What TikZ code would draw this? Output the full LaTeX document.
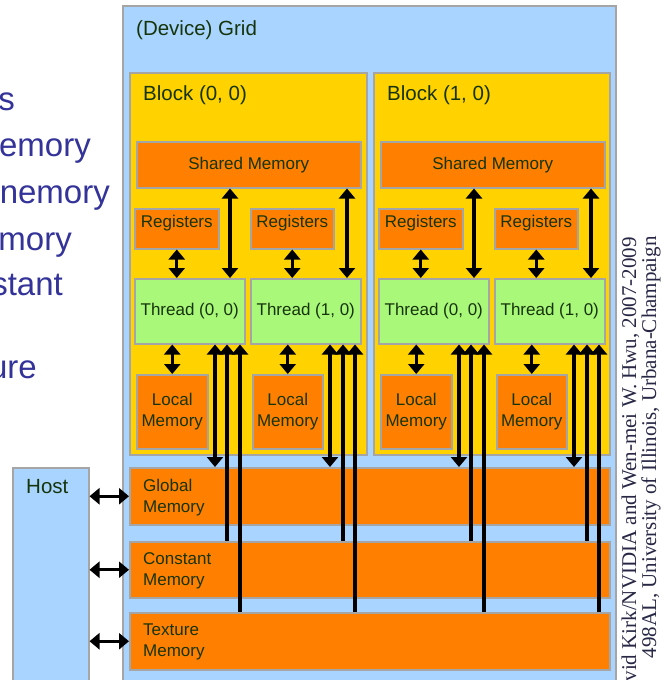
\documentclass[tikz,border=0pt]{standalone}
\usepackage{fontspec}
\setmainfont{Liberation Sans}
\newfontfamily\serifside{Liberation Serif}
\usetikzlibrary{arrows.meta}
\definecolor{gridblue}{RGB}{168,212,255}
\definecolor{blockgold}{RGB}{255,210,0}
\definecolor{memorange}{RGB}{255,128,0}
\definecolor{threadgreen}{RGB}{170,248,122}
\definecolor{edgegray}{RGB}{165,165,165}
\definecolor{labelgreen}{RGB}{22,52,10}
\definecolor{bullblue}{RGB}{51,51,153}
\definecolor{sidegray}{RGB}{40,40,70}
\tikzset{
  box/.style={draw=edgegray, line width=1.5pt, anchor=north west, inner sep=0pt,
    text=labelgreen, font=\fontsize{17}{21}\selectfont, align=center},
  gridbox/.style={box, fill=gridblue},
  blockbox/.style={box, fill=blockgold},
  membox/.style={box, fill=memorange},
  thbox/.style={box, fill=threadgreen},
  lbl/.style={inner sep=0pt, text=labelgreen, font=\fontsize{17}{21}\selectfont, align=left},
  title/.style={inner sep=0pt, text=labelgreen, font=\fontsize{20.5}{24}\selectfont, anchor=base west},
  bull/.style={inner sep=0pt, text=bullblue, font=\fontsize{33}{40}\selectfont, anchor=base east},
  side/.style={inner sep=0pt, text=sidegray, font=\serifside\fontsize{21}{24}\selectfont, rotate=90, anchor=base east},
  dbl/.style={line width=3.3pt, {Triangle[width=16pt,length=10pt]}-{Triangle[width=16pt,length=10pt]}},
  upar/.style={line width=3.3pt, {Triangle[width=16pt,length=10pt]}-}
}
\begin{document}
\begin{tikzpicture}[x=1pt,y=-1pt]
\useasboundingbox (0,0) rectangle (664,680);
\clip (0,0) rectangle (664,680);
\fill[white] (0,0) rectangle (664,680);

% left clipped bullet text
\node[bull] (b1) at (15,110) {s};
\node[bull] (b2) at (91,156) {emory};
\node[bull] (b3) at (110,203) {nemory};
\node[bull] (b4) at (72,250) {mory};
\node[bull] (b5) at (63,295) {stant};
\node[bull] (b6) at (37,378) {ure};

% grid and host
\node[gridbox, minimum width=493pt, minimum height=720pt] (grid) at (122,5) {};
\node[title] (gridt) at (136,35) {(Device) Grid};
\node[gridbox, minimum width=76pt, minimum height=260pt] (host) at (12,467) {};
\node[title] (hostt) at (26,493) {Host};

% blocks
\node[blockbox, minimum width=237pt, minimum height=382pt] (blk0) at (129,72) {};
\node[blockbox, minimum width=236pt, minimum height=382pt] (blk1) at (373,72) {};
\node[title] (blk0t) at (143,100) {Block (0, 0)};
\node[title] (blk1t) at (387,100) {Block (1, 0)};

% block 0 contents
\node[membox, minimum width=224pt, minimum height=46pt] (sm0) at (136,141) {Shared Memory};
\node[membox, minimum width=84pt, minimum height=40pt, label={[lbl,yshift=6pt]center:Registers}] (reg00) at (134,208) {};
\node[membox, minimum width=83pt, minimum height=40pt, label={[lbl,yshift=6pt]center:Registers}] (reg01) at (250,208) {};
\node[thbox, minimum width=110pt, minimum height=65pt] (th00) at (134,278) {Thread (0, 0)};
\node[thbox, minimum width=110pt, minimum height=65pt] (th01) at (250,278) {Thread (1, 0)};
\node[membox, minimum width=71pt, minimum height=74pt] (lm00) at (136,374) {Local\\Memory};
\node[membox, minimum width=70pt, minimum height=74pt] (lm01) at (252,374) {Local\\Memory};

% block 1 contents
\node[membox, minimum width=224pt, minimum height=46pt] (sm1) at (380,141) {Shared Memory};
\node[membox, minimum width=84pt, minimum height=40pt, label={[lbl,yshift=6pt]center:Registers}] (reg10) at (378,208) {};
\node[membox, minimum width=83pt, minimum height=40pt, label={[lbl,yshift=6pt]center:Registers}] (reg11) at (494,208) {};
\node[thbox, minimum width=110pt, minimum height=65pt] (th10) at (378,278) {Thread (0, 0)};
\node[thbox, minimum width=110pt, minimum height=65pt] (th11) at (494,278) {Thread (1, 0)};
\node[membox, minimum width=71pt, minimum height=74pt] (lm10) at (380,374) {Local\\Memory};
\node[membox, minimum width=70pt, minimum height=74pt] (lm11) at (496,374) {Local\\Memory};

% device memories
\node[membox, minimum width=480pt, minimum height=57pt] (gm) at (129,467) {};
\node[membox, minimum width=480pt, minimum height=56pt] (cm) at (129,541) {};
\node[membox, minimum width=480pt, minimum height=57pt] (tm) at (129,612) {};
\node[lbl, anchor=north west] (gmt) at (143,479) {Global\\Memory};
\node[lbl, anchor=north west] (cmt) at (143,552) {Constant\\Memory};
\node[lbl, anchor=north west] (tmt) at (143,624) {Texture\\Memory};

% register <-> thread
\draw[dbl] (reg00.south) -- (reg00.south |- th00.north);
\draw[dbl] (reg01.south) -- (reg01.south |- th01.north);
\draw[dbl] (reg10.south) -- (reg10.south |- th10.north);
\draw[dbl] (reg11.south) -- (reg11.south |- th11.north);
% shared <-> thread
\draw[dbl] (230,0 |- sm0.south) -- (230,0 |- th00.north);
\draw[dbl] (347,0 |- sm0.south) -- (347,0 |- th01.north);
\draw[dbl] (474,0 |- sm1.south) -- (474,0 |- th10.north);
\draw[dbl] (591,0 |- sm1.south) -- (591,0 |- th11.north);
% local <-> thread
\draw[dbl] (lm00.north) -- (lm00.north |- th00.south);
\draw[dbl] (lm01.north) -- (lm01.north |- th01.south);
\draw[dbl] (lm10.north) -- (lm10.north |- th10.south);
\draw[dbl] (lm11.north) -- (lm11.north |- th11.south);
% thread <-> global / constant / texture
\draw[dbl]  (215,0 |- th00.south) -- (215,0 |- gm.north);
\draw[upar] (227,0 |- th00.south) -- (227,0 |- cm.north);
\draw[upar] (240,0 |- th00.south) -- (240,0 |- tm.north);
\draw[dbl]  (330,0 |- th01.south) -- (330,0 |- gm.north);
\draw[upar] (343,0 |- th01.south) -- (343,0 |- cm.north);
\draw[upar] (355,0 |- th01.south) -- (355,0 |- tm.north);
\draw[dbl]  (459,0 |- th10.south) -- (459,0 |- gm.north);
\draw[upar] (471,0 |- th10.south) -- (471,0 |- cm.north);
\draw[upar] (484,0 |- th10.south) -- (484,0 |- tm.north);
\draw[dbl]  (574,0 |- th11.south) -- (574,0 |- gm.north);
\draw[upar] (587,0 |- th11.south) -- (587,0 |- cm.north);
\draw[upar] (599,0 |- th11.south) -- (599,0 |- tm.north);
% host <-> memories
\draw[dbl] (host.east |- gm.west) -- (gm.west);
\draw[dbl] (host.east |- cm.west) -- (cm.west);
\draw[dbl] (host.east |- tm.west) -- (tm.west);

% side credit text
\node[side] (cr1) at (636,237) {vid Kirk/NVIDIA and Wen-mei W. Hwu, 2007-2009};
\node[side] (cr2) at (656,236) {498AL, University of Illinois, Urbana-Champaign};
\end{tikzpicture}
\end{document}
